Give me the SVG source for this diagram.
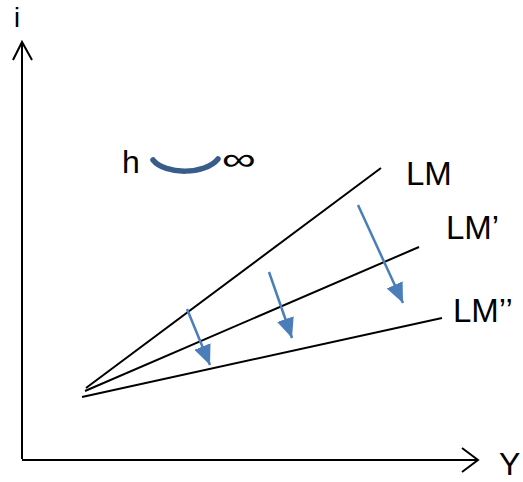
<svg xmlns="http://www.w3.org/2000/svg" width="523" height="482" viewBox="0 0 523 482">
<defs>
<marker id="bh" markerUnits="userSpaceOnUse" markerWidth="20" markerHeight="20" refX="16" refY="7" orient="auto" viewBox="0 0 16 14">
<path d="M0,0 L16,7 L0,14 Z" fill="#4a7ebb"/>
</marker>
<style>
.ax{stroke:#000;stroke-width:2;fill:none}
.lm{stroke:#000;stroke-width:2;fill:none}
.sh{stroke:#4a7ebb;stroke-width:2.5;fill:none;marker-end:url(#bh)}
.t{font-family:"Liberation Sans",Arial,sans-serif;fill:#000}
</style>
</defs>
<rect width="523" height="482" fill="#fff"/>
<g id="axes">
<path class="ax" d="M22,459 V43 M13,60 L22,42 L32,60"/>
<path class="ax" d="M22,460 H477 M462,448 L478,460 L462,472"/>
<text class="t" x="14" y="27" font-size="27">i</text>
<text class="t" x="499" y="475" font-size="32">Y</text>
</g>
<g id="connectors">
<line class="lm" x1="86" y1="388" x2="381" y2="168"/>
<line class="lm" x1="85" y1="391" x2="419" y2="247"/>
<line class="lm" x1="82" y1="397" x2="442" y2="318"/>
<line class="sh" x1="187" y1="309" x2="210" y2="365"/>
<line class="sh" x1="269" y1="272" x2="292" y2="338"/>
<line class="sh" x1="358" y1="205" x2="403" y2="303"/>
</g>
<g id="labels">
<text class="t" x="406" y="185" font-size="33">LM</text>
<text class="t" x="446" y="239" font-size="33">LM’</text>
<text class="t" x="453" y="322" font-size="33">LM’’</text>
</g>
<g id="h-inf">
<text class="t" x="122" y="173" font-size="32">h</text>
<path d="M153,160 C165,175 205,175 218,159" stroke="#385d8a" stroke-width="5.5" fill="none" stroke-linecap="round"/>
<text class="t" x="222" y="170" font-size="32" textLength="34" lengthAdjust="spacingAndGlyphs">∞</text>
</g>
</svg>
